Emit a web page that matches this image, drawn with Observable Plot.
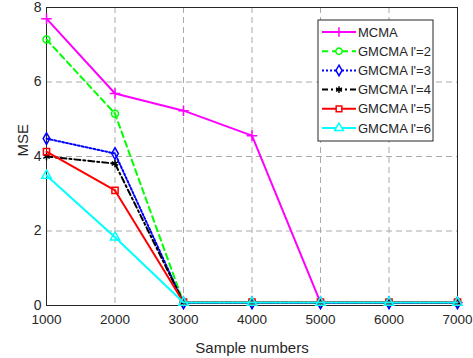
<!DOCTYPE html>
<html>
<head>
<meta charset="utf-8">
<script src="https://cdn.jsdelivr.net/npm/d3@7"></script>
<script src="https://cdn.jsdelivr.net/npm/@observablehq/plot@0.6"></script>
<style>
  html, body { margin: 0; padding: 0; background: #fff; }
  #chart { position: relative; width: 473px; height: 358px; }
</style>
</head>
<body>
<div id="chart"></div>
<script>
const sampleNumbers = [1000, 2000, 3000, 4000, 5000, 6000, 7000];
const seriesNames = ["MCMA", "GMCMA l'=2", "GMCMA l'=3", "GMCMA l'=4", "GMCMA l'=5", "GMCMA l'=6"];
const mcma    = [7.70, 5.69, 5.23, 4.56, 0.08, 0.08, 0.08];
const gmcma2  = [7.14, 5.15, 0.08, 0.08, 0.08, 0.08, 0.08];
const gmcma3  = [4.48, 4.08, 0.07, 0.07, 0.07, 0.07, 0.07];
const gmcma4  = [4.00, 3.81, 0.08, 0.08, 0.08, 0.08, 0.08];
const gmcma5  = [4.13, 3.09, 0.09, 0.09, 0.09, 0.09, 0.09];
const gmcma6  = [3.49, 1.83, 0.08, 0.08, 0.08, 0.08, 0.08];
const xTicks = [1000, 2000, 3000, 4000, 5000, 6000, 7000];
const yTicks = [0, 2, 4, 6, 8];
const xLabel = "Sample numbers";
const yLabel = "MSE";

const colors  = ["#ff00ff", "#00ff00", "#0000ff", "#000000", "#ff0000", "#00ffff"];
const dashes  = [null, "6,4", "2,2", "6,3,2,3", null, null];
const symbols = ["plus", "circle", "diamond", "asterisk", "square", "triangle"];
const allValues = [mcma, gmcma2, gmcma3, gmcma4, gmcma5, gmcma6];

const data = [];
allValues.forEach((vals, i) => vals.forEach((v, j) => data.push({series: seriesNames[i], x: sampleNumbers[j], y: v, i})));

const font = "'Liberation Sans', Arial, sans-serif";
const marks = [
  Plot.ruleX(xTicks.slice(1, -1), {stroke: "#aaaaaa", strokeDasharray: "6,4", strokeWidth: 1}),
  Plot.ruleY(yTicks.slice(1, -1), {stroke: "#aaaaaa", strokeDasharray: "6,4", strokeWidth: 1}),
  Plot.frame({stroke: "#262626", strokeWidth: 1})
];
seriesNames.forEach((name, i) => {
  const d = data.filter(r => r.i === i);
  marks.push(Plot.line(d, {x: "x", y: "y", stroke: colors[i], strokeWidth: 2, strokeDasharray: dashes[i] || undefined}));
  marks.push(Plot.dot(d, {x: "x", y: "y", symbol: () => symbols[i], stroke: colors[i], strokeWidth: 1.5, r: 3.5, fill: "none"}));
});
marks.push(Plot.axisX({ticks: xTicks, tickSize: 0, tickPadding: 9, tickFormat: d => String(d), label: null, fontSize: 13.5}));
marks.push(Plot.axisY({ticks: yTicks, tickSize: 0, tickPadding: 5, tickFormat: d => String(d), label: null, fontSize: 14}));
marks.push(Plot.text([xLabel], {text: d => d, frameAnchor: "bottom", dy: 43, lineAnchor: "middle", fontSize: 15, fill: "#262626"}));
marks.push(Plot.text([yLabel], {text: d => d, frameAnchor: "left", dx: -23, rotate: -90, lineAnchor: "middle", fontSize: 15, fill: "#262626"}));

const plot = Plot.plot({
  width: 473, height: 358,
  marginLeft: 46, marginRight: 16, marginTop: 7, marginBottom: 53,
  style: {fontFamily: font, fontSize: "13.5px", color: "#262626", background: "#fff", overflow: "visible"},
  x: {domain: [1000, 7000]},
  y: {domain: [0, 8]},
  symbol: {type: "identity"},
  marks
});
document.getElementById("chart").appendChild(plot);

// Legend
const svg = d3.select(plot);
const lg = svg.append("g").attr("transform", "translate(318,20)");
lg.append("rect").attr("width", 115).attr("height", 121).attr("fill", "#fff").attr("stroke", "#262626").attr("stroke-width", 1);
const symGen = {
  plus: d3.symbolPlus, circle: d3.symbolCircle, diamond: d3.symbolDiamond,
  asterisk: d3.symbolAsterisk, square: d3.symbolSquare, triangle: d3.symbolTriangle
};
seriesNames.forEach((name, i) => {
  const yy = 12 + i * 19.2;
  const row = lg.append("g").attr("transform", `translate(0,${yy})`);
  row.append("line").attr("x1", 4).attr("x2", 38).attr("y1", 0).attr("y2", 0)
    .attr("stroke", colors[i]).attr("stroke-width", 2).attr("stroke-dasharray", dashes[i]);
  row.append("path").attr("transform", "translate(21,0)")
    .attr("d", d3.symbol(symGen[symbols[i]], 32)())
    .attr("fill", symbols[i] === "asterisk" ? "none" : "#fff").attr("stroke", colors[i]).attr("stroke-width", 1.5);
  row.append("text").attr("x", 40).attr("y", 0).attr("dy", "0.35em")
    .attr("text-anchor", "start")
    .attr("font-family", font).attr("font-size", 13).attr("fill", "#262626").text(name);
});
</script>
</body>
</html>
